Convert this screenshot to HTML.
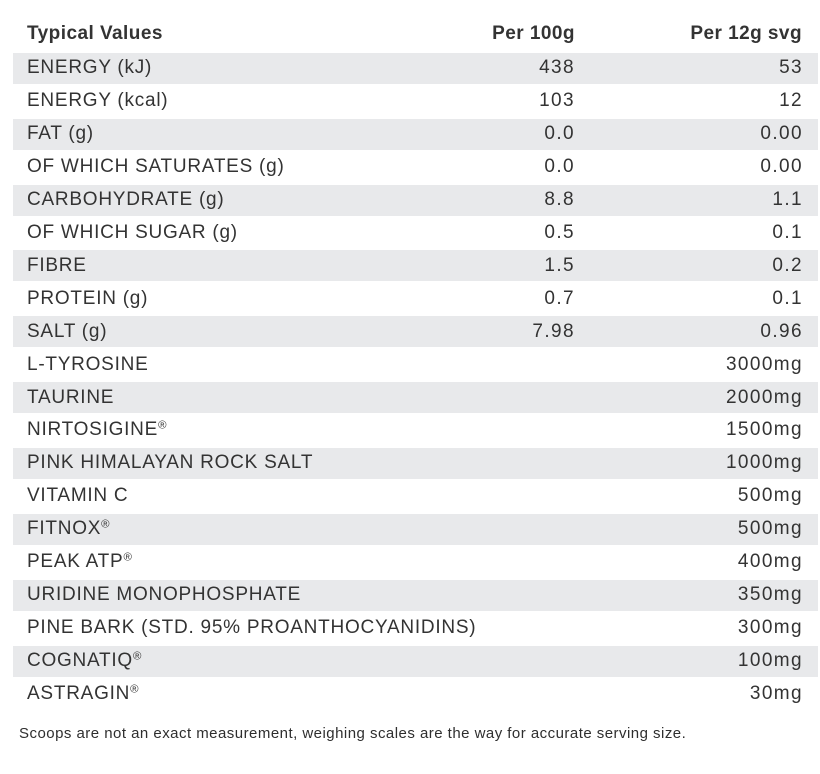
<!DOCTYPE html>
<html>
<head>
<meta charset="utf-8">
<style>
  html,body{margin:0;padding:0;background:#fff;}
  body{width:820px;height:774px;position:relative;overflow:hidden;
       font-family:"Liberation Sans",Arial,sans-serif;color:#333;}
  .stripe{position:absolute;left:13px;width:805px;height:31px;background:#e8e9eb;}
  .t{position:absolute;height:30px;line-height:30px;font-size:19px;white-space:nowrap;letter-spacing:0.75px;}
  .l{left:27px;}
  .m{right:245px;text-align:right;letter-spacing:1.4px;}
  .r{right:17px;text-align:right;letter-spacing:1.4px;}
  .h{font-weight:bold;letter-spacing:0.45px;}
  .hm{right:245px;}
  .hr{right:18px;}
  sup{font-size:0.6em;vertical-align:0.55em;line-height:0;letter-spacing:0;}
  .foot{position:absolute;left:19px;top:725px;font-size:15px;line-height:18px;white-space:nowrap;color:#2e2e2e;letter-spacing:0.47px;}
</style>
</head>
<body>
<div class="stripe" style="top:53px"></div>
<div class="stripe" style="top:119px"></div>
<div class="stripe" style="top:185px"></div>
<div class="stripe" style="top:250px"></div>
<div class="stripe" style="top:316px"></div>
<div class="stripe" style="top:382px"></div>
<div class="stripe" style="top:448px"></div>
<div class="stripe" style="top:514px"></div>
<div class="stripe" style="top:580px"></div>
<div class="stripe" style="top:646px"></div>

<div class="t l h" style="top:19px">Typical Values</div>
<div class="t h hm" style="top:19px">Per 100g</div>
<div class="t h hr" style="top:19px">Per 12g svg</div>

<div class="t l" style="top:53px">ENERGY (kJ)</div><div class="t m" style="top:53px">438</div><div class="t r" style="top:53px">53</div>
<div class="t l" style="top:86px">ENERGY (kcal)</div><div class="t m" style="top:86px">103</div><div class="t r" style="top:86px">12</div>
<div class="t l" style="top:119px">FAT (g)</div><div class="t m" style="top:119px">0.0</div><div class="t r" style="top:119px">0.00</div>
<div class="t l" style="top:152px">OF WHICH SATURATES (g)</div><div class="t m" style="top:152px">0.0</div><div class="t r" style="top:152px">0.00</div>
<div class="t l" style="top:185px">CARBOHYDRATE (g)</div><div class="t m" style="top:185px">8.8</div><div class="t r" style="top:185px">1.1</div>
<div class="t l" style="top:218px">OF WHICH SUGAR (g)</div><div class="t m" style="top:218px">0.5</div><div class="t r" style="top:218px">0.1</div>
<div class="t l" style="top:251px">FIBRE</div><div class="t m" style="top:251px">1.5</div><div class="t r" style="top:251px">0.2</div>
<div class="t l" style="top:284px">PROTEIN (g)</div><div class="t m" style="top:284px">0.7</div><div class="t r" style="top:284px">0.1</div>
<div class="t l" style="top:317px">SALT (g)</div><div class="t m" style="top:317px">7.98</div><div class="t r" style="top:317px">0.96</div>
<div class="t l" style="top:350px">L-TYROSINE</div><div class="t r" style="top:350px">3000mg</div>
<div class="t l" style="top:383px">TAURINE</div><div class="t r" style="top:383px">2000mg</div>
<div class="t l" style="top:415px">NIRTOSIGINE<sup>®</sup></div><div class="t r" style="top:415px">1500mg</div>
<div class="t l" style="top:448px">PINK HIMALAYAN ROCK SALT</div><div class="t r" style="top:448px">1000mg</div>
<div class="t l" style="top:481px">VITAMIN C</div><div class="t r" style="top:481px">500mg</div>
<div class="t l" style="top:514px">FITNOX<sup>®</sup></div><div class="t r" style="top:514px">500mg</div>
<div class="t l" style="top:547px">PEAK ATP<sup>®</sup></div><div class="t r" style="top:547px">400mg</div>
<div class="t l" style="top:580px">URIDINE MONOPHOSPHATE</div><div class="t r" style="top:580px">350mg</div>
<div class="t l" style="top:613px">PINE BARK (STD. 95% PROANTHOCYANIDINS)</div><div class="t r" style="top:613px">300mg</div>
<div class="t l" style="top:646px">COGNATIQ<sup>®</sup></div><div class="t r" style="top:646px">100mg</div>
<div class="t l" style="top:679px">ASTRAGIN<sup>®</sup></div><div class="t r" style="top:679px">30mg</div>

<div class="foot">Scoops are not an exact measurement, weighing scales are the way for accurate serving size.</div>
</body>
</html>
